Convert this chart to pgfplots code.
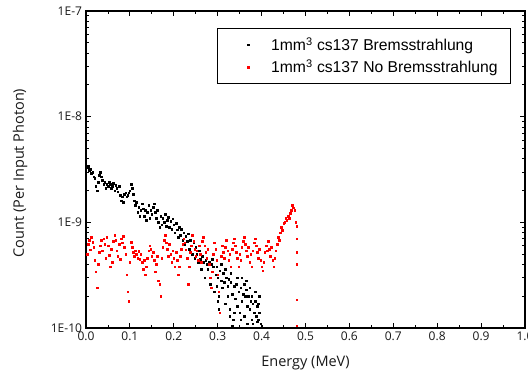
\documentclass[border=0pt]{standalone}
\usepackage{fontspec}
\setmainfont{Open Sans}
\newfontfamily\legendfont{Liberation Sans}
\newfontfamily\labelfont{Open Sans}
\usepackage{pgfplots}
\pgfplotsset{compat=1.18}
\begin{document}
\begin{tikzpicture}
\begin{axis}[
  scale only axis,
  width=439bp, height=317bp,
  xmin=0, xmax=1, ymin=1e-10, ymax=1e-7,
  ymode=log,
  xtick={0,0.1,0.2,0.3,0.4,0.5,0.6,0.7,0.8,0.9,1.0},
  xticklabels={0.0,0.1,0.2,0.3,0.4,0.5,0.6,0.7,0.8,0.9,1.0},
  minor x tick num=1,
  ytick={1e-10,1e-9,1e-8,1e-7},
  yticklabels={1E-10,1E-9,1E-8,1E-7},
  /pgf/number format/assume math mode=true,
  tick align=inside,
  major tick length=5bp, minor tick length=3bp,
  tick style={black, line width=0.8bp},
  axis line style={line width=1.3bp},
  ticklabel style={font=\labelfont\fontsize{12bp}{14bp}\selectfont, text=black!90},
  xticklabel style={yshift=-0.5bp},
  yticklabel style={xshift=-0.5bp},
  xlabel={Energy (MeV)},
  ylabel={Count (Per Input Photon)},
  label style={font=\labelfont\fontsize{14.5bp}{16bp}\selectfont, text=black!90},
  xlabel style={at={(axis description cs:0.5,-0.110)}, anchor=center},
  ylabel style={at={(axis description cs:-0.150,0.489)}, anchor=center, rotate=0},
  legend cell align=left,
  legend image code/.code={\draw[mark repeat=2,mark phase=2,#1,draw=none] plot coordinates {(-0.7cm,0cm) (0cm,0cm) (0.75cm,0cm)};},
  legend style={at={(axis description cs:0.968,0.946)}, anchor=north east,
    draw=black, line width=0.6bp, inner xsep=11bp, inner ysep=7bp, row sep=4bp,
    font=\legendfont\fontsize{15.7bp}{18bp}\selectfont},
]
\coordinate (bbsw) at (rel axis cs:0,0);
\coordinate (bbne) at (rel axis cs:1,1);
\addplot[color=black, draw=none, mark=square*, mark size=0.8bp, mark options={solid, line width=0.4bp}] coordinates {
(0.0025,3.3e-9)(0.005,3.4e-9)(0.0075,3.1e-9)(0.01,3.2e-9)(0.0125,2.9e-9)(0.015,3.0e-9)(0.0175,2.7e-9)(0.02,2.6e-9)
(0.0225,2.2e-9)(0.025,2.0e-9)(0.0275,2.4e-9)(0.03,2.8e-9)(0.0325,3.0e-9)(0.035,2.7e-9)(0.0375,2.5e-9)(0.04,2.3e-9)
(0.0425,2.4e-9)(0.045,2.1e-9)(0.0475,2.3e-9)(0.05,2.2e-9)(0.0525,2.4e-9)(0.055,2.3e-9)(0.0575,2.1e-9)(0.06,2.2e-9)
(0.0625,2.35e-9)(0.065,2.0e-9)(0.0675,2.25e-9)(0.07,2.1e-9)(0.0725,1.95e-9)(0.075,2.2e-9)(0.0775,1.8e-9)(0.08,1.6e-9)
(0.0825,1.75e-9)(0.085,1.55e-9)(0.0875,1.85e-9)(0.09,1.9e-9)(0.0925,1.75e-9)(0.095,1.8e-9)(0.0975,1.9e-9)(0.1,2.0e-9)
(0.1025,2.3e-9)(0.105,2.1e-9)(0.1075,1.85e-9)(0.11,1.6e-9)(0.1125,1.45e-9)(0.115,1.55e-9)(0.1175,1.25e-9)(0.12,1.4e-9)
(0.1225,1.15e-9)(0.125,1.3e-9)(0.1275,1.5e-9)(0.13,1.35e-9)(0.1325,1.15e-9)(0.135,1.3e-9)(0.1375,1.05e-9)(0.14,1.25e-9)
(0.1425,1.45e-9)(0.145,1.1e-9)(0.1475,1.3e-9)(0.15,1.2e-9)(0.1525,1.4e-9)(0.155,1.5e-9)(0.1575,1.25e-9)(0.16,1.1e-9)
(0.1625,1.3e-9)(0.165,1.0e-9)(0.1675,0.9e-9)(0.17,1.15e-9)(0.1725,0.95e-9)(0.175,1.1e-9)(0.1775,1.0e-9)(0.18,1.2e-9)
(0.1825,0.92e-9)(0.185,1.05e-9)(0.1875,1.12e-9)(0.19,0.9e-9)(0.1925,1.02e-9)(0.195,0.86e-9)(0.1975,1.08e-9)(0.2,0.95e-9)
(0.2025,0.8e-9)(0.205,0.98e-9)(0.2075,0.85e-9)(0.21,0.72e-9)(0.2125,0.9e-9)(0.215,0.76e-9)(0.2175,0.86e-9)(0.22,0.68e-9)
(0.2225,0.8e-9)(0.225,0.62e-9)(0.2275,0.74e-9)(0.23,0.66e-9)(0.2325,0.78e-9)(0.235,0.56e-9)(0.2375,0.68e-9)(0.24,0.6e-9)
(0.2425,0.5e-9)(0.245,0.64e-9)(0.2475,0.46e-9)(0.25,0.58e-9)(0.2525,0.5e-9)(0.255,0.42e-9)(0.2575,0.54e-9)(0.26,0.45e-9)
(0.2625,0.36e-9)(0.265,0.48e-9)(0.2675,0.42e-9)(0.27,0.3e-9)(0.2725,0.44e-9)(0.275,0.4e-9)(0.2775,0.36e-9)(0.28,0.42e-9)
(0.2825,0.26e-9)(0.285,0.4e-9)(0.2875,0.34e-9)(0.29,0.38e-9)(0.2925,0.22e-9)(0.295,0.32e-9)(0.2975,0.38e-9)(0.3,0.3e-9)
(0.3025,0.2e-9)(0.305,0.35e-9)(0.3075,0.28e-9)(0.31,0.24e-9)(0.3125,0.33e-9)(0.315,0.27e-9)(0.3175,0.17e-9)(0.32,0.3e-9)
(0.3225,0.25e-9)(0.325,0.29e-9)(0.3275,0.15e-9)(0.33,0.27e-9)(0.3325,0.21e-9)(0.335,0.12e-9)(0.3375,0.25e-9)(0.34,0.19e-9)
(0.3425,0.26e-9)(0.345,0.16e-9)(0.3475,0.22e-9)(0.35,0.14e-9)(0.3525,0.24e-9)(0.355,0.18e-9)(0.3575,0.21e-9)(0.36,0.13e-9)
(0.3625,0.2e-9)(0.365,0.23e-9)(0.3675,0.16e-9)(0.37,0.2e-9)(0.3725,0.15e-9)(0.375,0.18e-9)(0.3775,0.12e-9)(0.38,0.17e-9)
(0.3825,0.14e-9)(0.385,0.18e-9)(0.3875,0.13e-9)(0.39,0.16e-9)(0.3925,0.12e-9)(0.395,0.14e-9)(0.3975,0.11e-9)(0.4,0.105e-9)
(0.2875,0.45e-9)(0.2975,0.25e-9)(0.3075,0.4e-9)(0.3175,0.36e-9)(0.3225,0.2e-9)(0.33,0.33e-9)(0.3375,0.14e-9)(0.345,0.3e-9)
(0.3525,0.12e-9)(0.36,0.26e-9)(0.3675,0.11e-9)(0.3725,0.24e-9)(0.38,0.11e-9)(0.385,0.22e-9)(0.39,0.115e-9)(0.395,0.2e-9)
(0.3925,0.17e-9)(0.3775,0.2e-9)(0.365,0.28e-9)(0.355,0.3e-9)(0.3,0.18e-9)(0.3025,0.15e-9)(0.3325,0.105e-9)(0.3275,0.13e-9)
};
\addlegendentry{1mm\textsuperscript{3} cs137 Bremsstrahlung}
\addplot[color=red, draw=none, mark=square*, mark size=0.8bp, mark options={solid, line width=0.4bp}] coordinates {
(0.0025,5.0e-10)(0.005,6.2e-10)(0.0075,6.8e-10)(0.01,5.5e-10)(0.0125,7.2e-10)(0.015,6.5e-10)(0.0175,5.8e-10)(0.02,4.4e-10)
(0.0225,3.4e-10)(0.025,2.4e-10)(0.0275,4.0e-10)(0.03,5.2e-10)(0.0325,6.0e-10)(0.035,6.8e-10)(0.0375,5.4e-10)(0.04,7.0e-10)
(0.0425,6.2e-10)(0.045,4.6e-10)(0.0475,7.2e-10)(0.05,6.0e-10)(0.0525,4.9e-10)(0.055,3.8e-10)(0.0575,5.6e-10)(0.06,4.2e-10)
(0.0625,6.6e-10)(0.065,7.6e-10)(0.0675,6.8e-10)(0.07,5.4e-10)(0.0725,4.8e-10)(0.075,6.2e-10)(0.0775,4.5e-10)(0.08,7.0e-10)
(0.0825,6.4e-10)(0.085,7.4e-10)(0.0875,5.8e-10)(0.09,5.0e-10)(0.0925,3.2e-10)(0.095,2.2e-10)(0.0975,1.8e-10)(0.1,4.2e-10)
(0.1025,6.5e-10)(0.105,5.8e-10)(0.1075,5.2e-10)(0.11,4.8e-10)(0.1125,5.4e-10)(0.115,5.0e-10)(0.1175,4.6e-10)(0.12,5.3e-10)
(0.1225,4.5e-10)(0.125,5.0e-10)(0.1275,4.2e-10)(0.13,3.6e-10)(0.1325,4.4e-10)(0.135,3.2e-10)(0.1375,3.8e-10)(0.14,4.6e-10)
(0.1425,5.4e-10)(0.145,6.0e-10)(0.1475,5.6e-10)(0.15,4.8e-10)(0.1525,5.2e-10)(0.155,4.4e-10)(0.1575,3.4e-10)(0.16,4.0e-10)
(0.1625,4.8e-10)(0.165,2.8e-10)(0.1675,2.6e-10)(0.17,2.0e-10)(0.1725,4.6e-10)(0.175,5.8e-10)(0.1775,6.8e-10)(0.18,7.6e-10)
(0.1825,6.4e-10)(0.185,5.6e-10)(0.1875,4.8e-10)(0.19,6.2e-10)(0.1925,5.0e-10)(0.195,4.2e-10)(0.1975,5.4e-10)(0.2,4.6e-10)
(0.2025,3.8e-10)(0.205,5.2e-10)(0.2075,4.4e-10)(0.21,3.2e-10)(0.2125,3.8e-10)(0.215,4.8e-10)(0.2175,5.6e-10)(0.22,6.2e-10)
(0.2225,7.0e-10)(0.225,6.4e-10)(0.2275,5.5e-10)(0.23,4.6e-10)(0.2325,2.6e-10)(0.235,3.8e-10)(0.2375,5.2e-10)(0.24,6.0e-10)
(0.2425,7.6e-10)(0.245,6.6e-10)(0.2475,5.6e-10)(0.25,4.8e-10)(0.2525,5.4e-10)(0.255,4.4e-10)(0.2575,6.0e-10)(0.26,5.0e-10)
(0.2625,4.2e-10)(0.265,6.6e-10)(0.2675,7.2e-10)(0.27,6.0e-10)(0.2725,5.2e-10)(0.275,4.6e-10)(0.2775,5.6e-10)(0.28,4.0e-10)
(0.2825,3.0e-10)(0.285,2.4e-10)(0.2875,3.4e-10)(0.29,5.0e-10)(0.2925,6.4e-10)(0.295,5.6e-10)(0.2975,4.4e-10)(0.3,3.2e-10)
(0.3025,2.2e-10)(0.305,1.4e-10)(0.3075,4.8e-10)(0.31,6.0e-10)(0.3125,5.2e-10)(0.315,4.6e-10)(0.3175,5.8e-10)(0.32,6.8e-10)
(0.3225,5.4e-10)(0.325,4.4e-10)(0.3275,5.0e-10)(0.33,3.8e-10)(0.3325,5.6e-10)(0.335,6.4e-10)(0.3375,7.0e-10)(0.34,6.0e-10)
(0.3425,5.2e-10)(0.345,4.6e-10)(0.3475,3.8e-10)(0.35,5.0e-10)(0.3525,4.4e-10)(0.355,5.8e-10)(0.3575,6.6e-10)(0.36,7.2e-10)
(0.3625,6.2e-10)(0.365,5.4e-10)(0.3675,4.8e-10)(0.37,5.8e-10)(0.3725,4.2e-10)(0.375,5.0e-10)(0.3775,3.8e-10)(0.38,5.4e-10)
(0.3825,6.4e-10)(0.385,7.0e-10)(0.3875,6.0e-10)(0.39,5.2e-10)(0.3925,4.6e-10)(0.395,5.6e-10)(0.3975,4.4e-10)(0.4,3.8e-10)
(0.4025,3.5e-10)(0.405,4.2e-10)(0.4075,5.2e-10)(0.41,6.0e-10)(0.4125,5.4e-10)(0.415,6.6e-10)(0.4175,5.6e-10)(0.42,4.8e-10)
(0.4225,5.8e-10)(0.425,4.4e-10)(0.4275,3.8e-10)(0.43,4.6e-10)(0.4325,5.4e-10)(0.435,6.2e-10)(0.4375,7.2e-10)(0.44,6.8e-10)
(0.4425,8.0e-10)(0.445,9.0e-10)(0.4475,8.4e-10)(0.45,9.8e-10)(0.4525,1.0e-9)(0.455,1.1e-9)(0.4575,1.05e-9)(0.46,1.15e-9)
(0.4625,1.1e-9)(0.465,1.22e-9)(0.4675,1.3e-9)(0.47,1.45e-9)(0.4725,1.38e-9)(0.475,1.3e-9)(0.4775,1.0e-9)(0.48,9.2e-10)
(0.48,7.0e-10)(0.48,5.2e-10)(0.48,4.0e-10)(0.48,1.85e-10)(0.48,1.05e-10)
};
\addlegendentry{1mm\textsuperscript{3} cs137 No Bremsstrahlung}
\end{axis}
\pgfresetboundingbox
\useasboundingbox ([shift={(-86bp,-47bp)}]bbsw) rectangle ([shift={(3bp,11bp)}]bbne);
\end{tikzpicture}
\end{document}
